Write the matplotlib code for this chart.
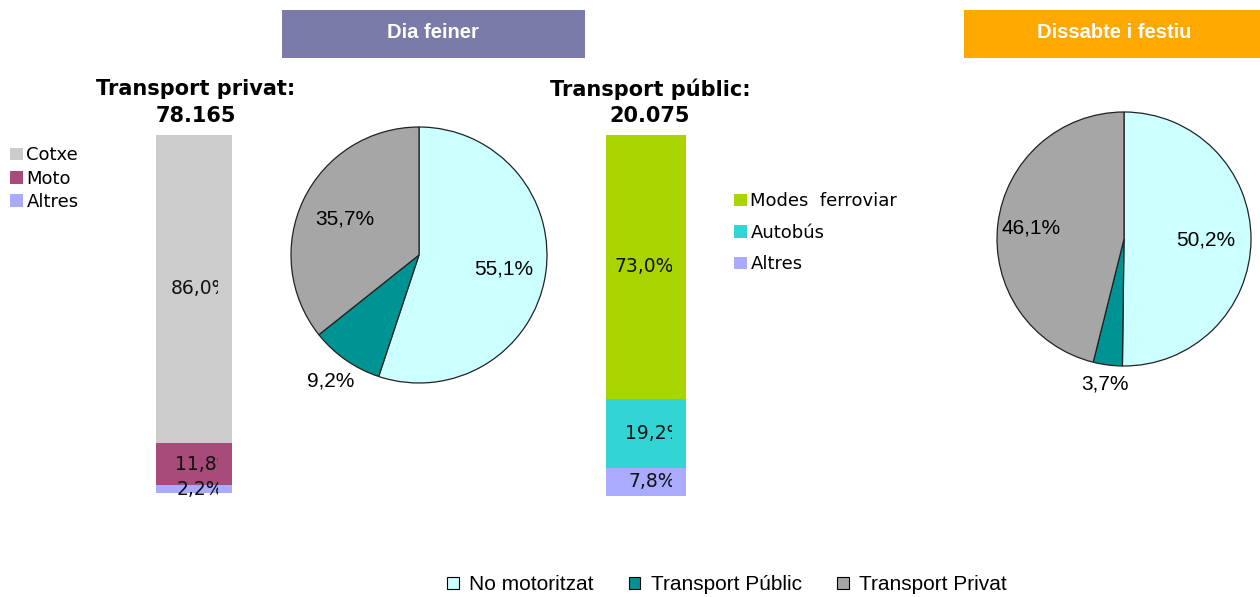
import matplotlib
matplotlib.use("Agg")
import matplotlib.pyplot as plt
from matplotlib.patches import Rectangle, Patch
import numpy as np

W, H = 1260, 597

# data
privat_labels = ['Cotxe', 'Moto', 'Altres']
privat_vals = [86.0, 11.8, 2.2]
public_labels = ['Modes  ferroviar', 'Autobús', 'Altres']
public_vals = [73.0, 19.2, 7.8]
pie_labels = ['No motoritzat', 'Transport Públic', 'Transport Privat']
feiner_vals = [55.1, 9.2, 35.7]
festiu_vals = [50.2, 3.7, 46.1]
titol_privat = ['Transport privat:', '78.165']
titol_public = ['Transport públic:', '20.075']

privat_colors = ['#cccccc', '#a64b7a', '#aaaaff']
public_colors = ['#aad400', '#33d4d4', '#aaaaff']
pie_colors = ['#ccffff', '#009393', '#a6a6a6']


def box(x0, y0, x1, y1):
    return [x0 / W, 1 - y1 / H, (x1 - x0) / W, (y1 - y0) / H]


def fpt(x, y):
    return x / W, 1 - y / H


fig = plt.figure(figsize=(W / 100, H / 100), dpi=100)

# headers
fig.add_artist(Rectangle(fpt(282, 58), 303 / W, 48 / H, transform=fig.transFigure,
                         color='#7b7ba9', lw=0))
fig.text(*fpt(433, 33), 'Dia feiner', color='white', fontsize=14.5, fontweight='bold',
         family='Liberation Sans', ha='center', va='center')
fig.add_artist(Rectangle(fpt(964, 58), 296 / W, 48 / H, transform=fig.transFigure,
                         color='#ffa800', lw=0))
fig.text(*fpt(1114, 33), 'Dissabte i festiu', color='white', fontsize=14.5, fontweight='bold',
         family='Liberation Sans', ha='center', va='center')


def stacked_bar(rect_px, vals, colors, labels, offsets, ext):
    x0, y0, x1, y1 = rect_px
    ax = fig.add_axes(box(x0, y0, x1, y1 + ext))
    span = y1 - y0
    ax.set_xlim(-0.5, 0.5)
    ax.set_ylim(-ext / span * 100, 100)
    ax.axis('off')
    handles = []
    bottom = 0
    # stack from the bottom: last item first
    for v, c, lab, off in zip(vals[::-1], colors[::-1], labels[::-1], offsets[::-1]):
        b = ax.bar(0, v, width=1, bottom=bottom, color=c, lw=0)
        handles.append(b.patches[0])
        t = ax.text(-0.5 + off / (x1 - x0), bottom + v / 2, ('%.1f%%' % v).replace('.', ','),
                    fontsize=13.5, ha='left', va='center', color='#111111', clip_on=True)
        clip = Rectangle((0, 0), 1 - 14 / (x1 - x0), 1, transform=ax.transAxes)
        t.set_clip_path(clip)
        bottom += v
    return ax, handles[::-1]


ax1, h1 = stacked_bar((156, 135, 232, 493), privat_vals, privat_colors, privat_labels,
                      [15, 19, 21], 20)
ax2, h2 = stacked_bar((606, 135, 686, 496), public_vals, public_colors, public_labels,
                      [8, 19, 22], 20)

# titles
for txt, y in zip(titol_privat, [89, 116]):
    fig.text(*fpt(196, y), txt, fontsize=15, fontweight='bold', ha='center', va='center')
for txt, y in zip(titol_public, [89, 116]):
    fig.text(*fpt(650, y), txt, fontsize=15, fontweight='bold', ha='center', va='center')

# bar legends
fig.legend(h1, privat_labels, loc='upper left', bbox_to_anchor=fpt(3, 139),
           frameon=False, fontsize=13, handlelength=0.7, handleheight=0.7,
           handletextpad=0.2, labelspacing=0.3, borderaxespad=0)
fig.legend(h2, public_labels, loc='upper left', bbox_to_anchor=fpt(727, 185),
           frameon=False, fontsize=13, handlelength=0.7, handleheight=0.7,
           handletextpad=0.2, labelspacing=0.75, borderaxespad=0)


def draw_pie(rect_px, vals, radii):
    ax = fig.add_axes(box(*rect_px))
    wedges, _ = ax.pie(vals, colors=pie_colors, startangle=90, counterclock=False,
                       wedgeprops=dict(edgecolor='#222222', linewidth=0.9))
    ax.set_xlim(-1, 1)
    ax.set_ylim(-1, 1)
    ax.set_aspect('equal')
    for w, v, r in zip(wedges, vals, radii):
        ang = np.deg2rad((w.theta1 + w.theta2) / 2)
        ax.text(r * np.cos(ang), r * np.sin(ang), ('%.1f%%' % v).replace('.', ','),
                fontsize=15, family='Liberation Sans', ha='center', va='center', clip_on=False)
    return wedges


draw_pie((291, 127, 547, 383), feiner_vals, [0.67, 1.2, 0.64])
draw_pie((997, 112, 1251, 366), festiu_vals, [0.64, 1.15, 0.74])

# bottom legend
leg_handles = [Patch(facecolor=c, edgecolor='black', lw=0.8) for c in pie_colors]
fig.legend(leg_handles, pie_labels, loc='center', bbox_to_anchor=fpt(727, 585), ncol=3,
           frameon=False, prop={'family': 'Liberation Sans', 'size': 15},
           handlelength=0.55, handleheight=0.55, handletextpad=0.5, columnspacing=1.7,
           borderaxespad=0)

fig.savefig('out.png', dpi=100)
